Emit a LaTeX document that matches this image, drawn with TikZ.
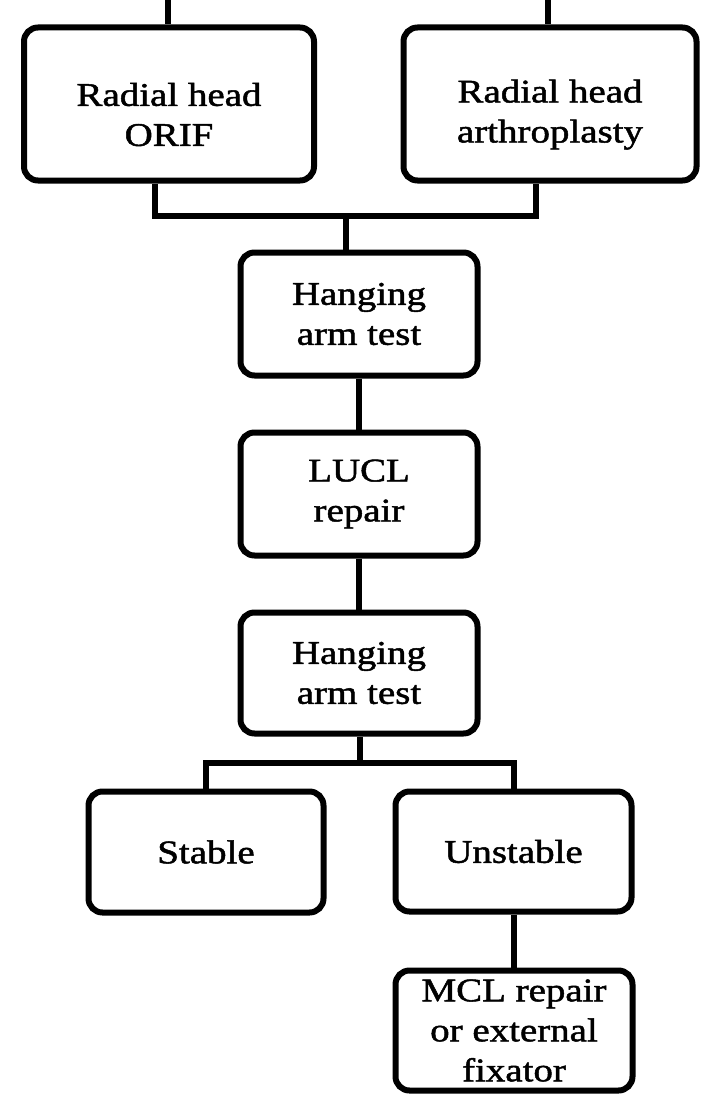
\documentclass[tikz,border=0pt]{standalone}
\usepackage{fontspec}
\setmainfont{Liberation Serif}[FakeStretch=1.18,FakeBold=1.5]
\usetikzlibrary{calc}

\begin{document}
\begin{tikzpicture}[x=1pt,y=-1pt,line width=6pt,
box/.style={draw,rounded corners=14pt,align=center,inner sep=2pt,font=\fontsize{33}{40}\selectfont}]
\useasboundingbox(0,0)rectangle(705,1097);
\node[box,minimum width=290pt,minimum height=153pt](orif)at(169,104){\rule{0pt}{44pt}Radial head\\ORIF};
\node[box,minimum width=293pt,minimum height=153pt](arth)at(550,104){\rule{0pt}{44pt}Radial head\\arthroplasty};
\node[box,minimum width=237pt,minimum height=123pt](hang1)at(359,314){Hanging\\arm test};
\node[box,minimum width=237pt,minimum height=123pt](lucl)at(359,494){LUCL\\repair};
\node[box,minimum width=237pt,minimum height=121pt](hang2)at(359,673){Hanging\\arm test};
\node[box,minimum width=235pt,minimum height=121pt](stab)at(206,852){Stable};
\node[box,minimum width=236pt,minimum height=120pt](unst)at(513.5,851.5){Unstable};
\node[box,minimum width=237pt,minimum height=120pt,inner sep=0pt](mcl)at(514,1030.5){MCL repair\\or external\\fixator};
% lines coming in from above
\coordinate(inl)at(168,0);\coordinate(inr)at(548,0);
\draw(inl)--(inl|-orif.north);\draw(inr)--(inr|-arth.north);
% joins
\coordinate(j1)at(346,216);\coordinate(j2)at(360,763);
\draw([xshift=-14pt]orif.south)|-(j1)-|([xshift=-14pt]arth.south);
\draw(j1)--(j1|-hang1.north);
\draw(hang1)--(lucl);\draw(lucl)--(hang2);
\draw(hang2.south-|j2)--(j2);
\draw(stab.north)|-(j2)-|(unst.north);
\draw(unst.south)--(unst.south|-mcl.north);
\end{tikzpicture}
\end{document}
